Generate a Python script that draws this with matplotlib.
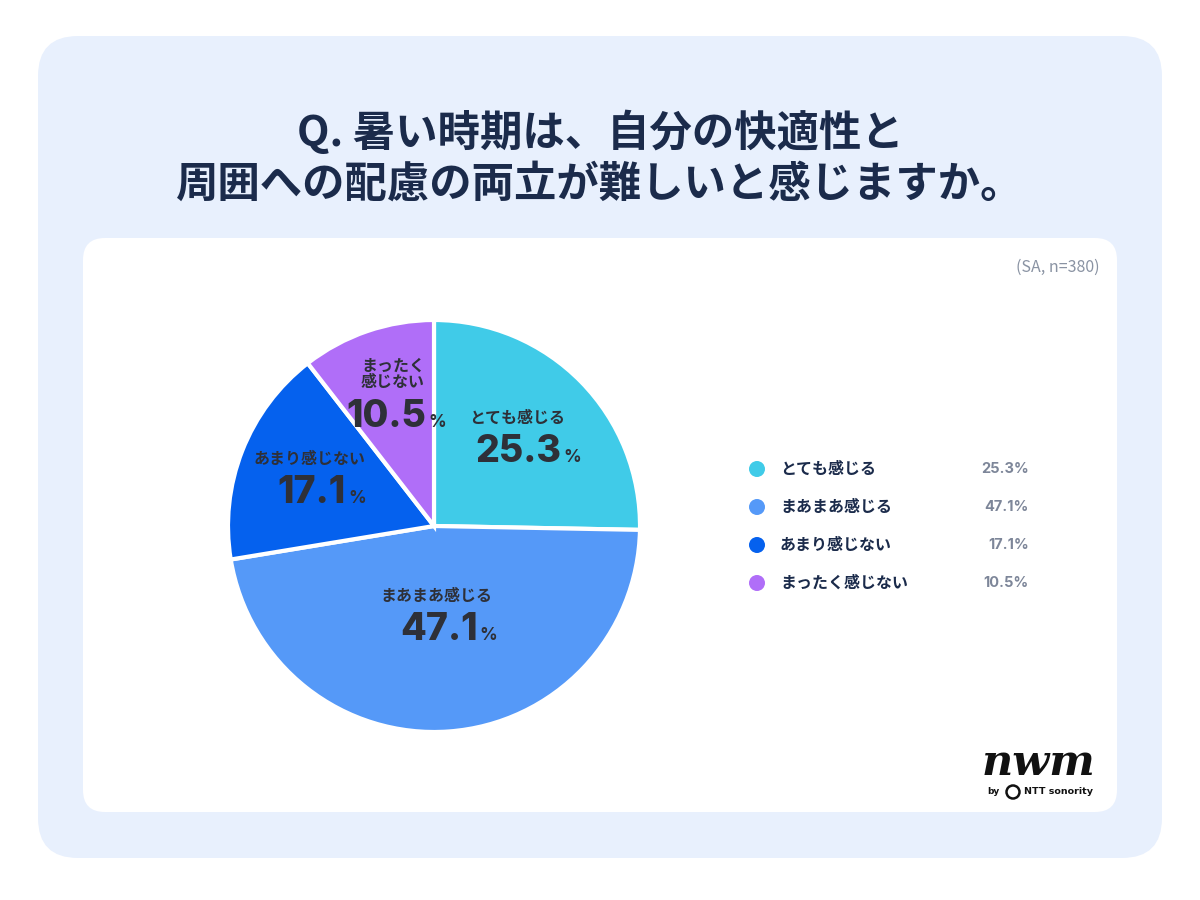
import numpy as np
import matplotlib.pyplot as plt
from matplotlib.patches import FancyBboxPatch, Circle

plt.rcParams['font.family'] = ['Noto Sans CJK JP', 'DejaVu Sans']

title = "Q. 暑い時期は、自分の快適性と\n周囲への配慮の両立が難しいと感じますか。"
note = "(SA, n=380)"
categories = ["とても感じる", "まあまあ感じる", "あまり感じない", "まったく感じない"]
pie_labels = ["とても感じる", "まあまあ感じる", "あまり感じない", "まったく\n感じない"]
values = [25.3, 47.1, 17.1, 10.5]
colors = ["#40CBE8", "#5599F8", "#0561EE", "#B06EF8"]

NAVY = "#1B2B4B"
DARK = "#2E3038"
GRAY = "#7D8699"
NUMFONT = ['Inter', 'DejaVu Sans']

fig = plt.figure(figsize=(12, 9), dpi=100)
fig.patch.set_facecolor("white")

# background in pixel coordinates
bg = fig.add_axes([0, 0, 1, 1])
bg.set_xlim(0, 1200)
bg.set_ylim(900, 0)
bg.axis("off")
bg.add_patch(FancyBboxPatch((38, 36), 1124, 822, boxstyle="round,pad=0,rounding_size=40",
                            fc="#E8F0FD", ec="none"))
bg.add_patch(FancyBboxPatch((83, 238), 1034, 574, boxstyle="round,pad=0,rounding_size=22",
                            fc="white", ec="none"))

bg.text(600, 158, title, ha="center", va="center", fontsize=30.5, fontweight="bold",
        color=NAVY, linespacing=1.25)
bg.text(1100, 267, note, ha="right", va="center", fontsize=11.5, color="#8A93A3")

# legend
for i, (cat, v, c) in enumerate(zip(categories, values, colors)):
    y = 469 + i * 38
    bg.add_patch(Circle((757, y), 8, fc=c, ec="none"))
    bg.text(780, y, cat, ha="left", va="center", fontsize=11.5, fontweight="bold", color=NAVY)
    bg.text(1029, y, f"{v}%", ha="right", va="center", fontsize=10.5, fontweight="bold",
            family=NUMFONT, color=GRAY)

# logo
bg.text(1038, 763, "nwm", ha="center", va="center", fontsize=31, fontstyle="italic",
        fontweight="bold", family="DejaVu Serif", color="#111111")
bg.text(993, 792, "by", ha="center", va="center", fontsize=6.5, fontweight="bold",
        family="DejaVu Sans", color="#111111")
bg.add_patch(Circle((1013, 792), 6.5, fc="none", ec="#111111", lw=1.8))
bg.text(1024, 792, "NTT sonority", ha="left", va="center", fontsize=6.8, fontweight="bold",
        family="DejaVu Sans", color="#111111")

# pie: centre (434, 526), radius 206 px
cx, cy, r = 434, 526, 206
ax = fig.add_axes([(cx - r) / 1200, 1 - (cy + r) / 900, 2 * r / 1200, 2 * r / 900])
wedges, _ = ax.pie(values, colors=colors, startangle=90, counterclock=False,
                   wedgeprops=dict(edgecolor="white", linewidth=3))
ax.set_xlim(-1, 1)
ax.set_ylim(-1, 1)
ax.set_aspect("equal")

label_r = [0.57, 0.51, 0.59, 0.56]
label_shift = [(0.034, -0.04), (0.017, 0.004), (-0.014, -0.055), (-0.018, 0.0)]
label_dx = [-0.035, -0.04, -0.04, 0.0]
fig.canvas.draw()
for w, lab, v, lr, (sx, sy), ldx in zip(wedges, pie_labels, values, label_r, label_shift, label_dx):
    ang = np.deg2rad((w.theta1 + w.theta2) / 2)
    x, y = lr * np.cos(ang) + sx, lr * np.sin(ang) + sy
    nl = lab.count("\n")
    ax.text(x + ldx, y + 0.165 + 0.045 * nl, lab, ha="center", va="center", fontsize=11.5,
            fontweight="bold", color=DARK, linespacing=1.0)
    num = ax.text(x - 0.03, y, f"{v}", ha="center", va="center", fontsize=27,
                  fontweight="heavy", family=NUMFONT, color=DARK)
    bb = num.get_window_extent(renderer=fig.canvas.get_renderer()).transformed(ax.transData.inverted())
    ax.text(bb.x1 + 0.01, y - 0.025, "%", ha="left", va="center", fontsize=12.5,
            fontweight="bold", family=NUMFONT, color=DARK)

fig.savefig("out.png", dpi=100, facecolor="white")
